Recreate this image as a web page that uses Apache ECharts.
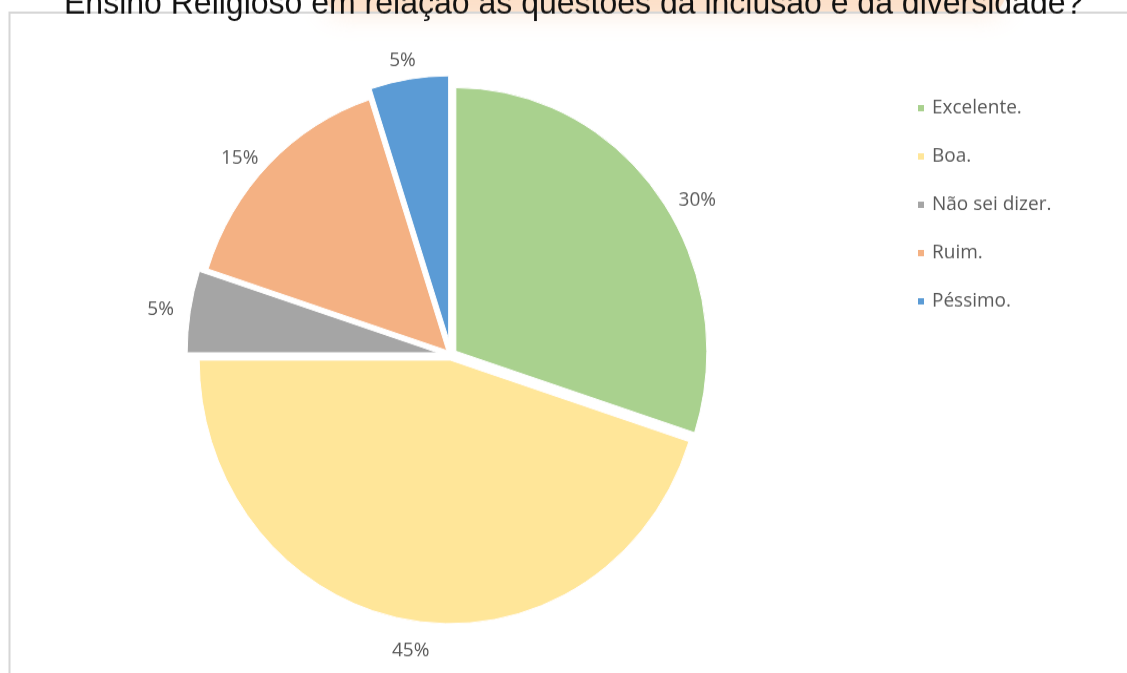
<!DOCTYPE html>
<html>
<head>
<meta charset="utf-8">
<title>Ensino Religioso – inclusão e diversidade</title>
<script src="https://cdn.jsdelivr.net/npm/echarts@6/dist/echarts.min.js"></script>
<style>
  html, body { margin: 0; padding: 0; background: #ffffff; width: 1127px; height: 673px; overflow: hidden; }
  /* the drawing is slightly taller than wide, so the canvas is stretched vertically */
  #chart { width: 1127px; height: 641px; transform: scaleY(1.05); transform-origin: 0 0; }
</style>
</head>
<body>
<div id="chart"></div>
<script>
// Survey answers (percent of respondents)
const categories = ['Excelente.', 'Boa.', 'Não sei dizer.', 'Ruim.', 'Péssimo.'];
const values = [30, 45, 5, 15, 5];
const colors = ['#a9d18e', '#ffe699', '#a5a5a5', '#f4b183', '#5b9bd5'];
const titleText = 'Ensino Religioso em relação às questões da inclusão e da diversidade?';

// how far each slice is pulled out of the pie, px
const explode = [6, 5, 13, 6, 15];
// label placement per slice: [radial reach, horizontal reach], px
const labelReach = [[-6, 19.5], [29.5, -28], [10.5, 1], [8.3, 0], [18.3, -14.3]];

const chart = echarts.init(document.getElementById('chart'), null, { renderer: 'canvas' });

// one pie layer per slice, so every slice can be pulled out by its own amount;
// all layers share the same layout, only the slice they own is visible
const pieLayers = categories.map((_, s) => ({
  type: 'pie',
  name: categories[s],
  center: [451, 338],
  radius: 251,
  startAngle: 90,
  clockwise: true,
  selectedMode: 'multiple',
  selectedOffset: explode[s],
  silent: true,
  avoidLabelOverlap: false,
  itemStyle: { borderColor: '#ffffff', borderWidth: 1 },
  label: {
    show: true,
    position: 'outside',
    formatter: '{c}%',
    fontFamily: 'Open Sans',
    fontSize: 19,
    color: '#595959'
  },
  labelLine: { show: false, length: 10, length2: 0 },
  emphasis: { disabled: true },
  data: categories.map((name, i) => ({
    name: name,
    value: values[i],
    selected: i === s,
    itemStyle: { color: colors[i], opacity: i === s ? 1 : 0 },
    label: { show: i === s },
    labelLine: { show: false, length: labelReach[i][0], length2: labelReach[i][1] }
  }))
}));

chart.setOption({
  backgroundColor: '#ffffff',
  animation: false,
  title: {
    text: titleText,
    left: 64,
    top: -12,
    padding: 0,
    textStyle: {
      fontFamily: 'Liberation Sans',
      fontSize: 32,
      fontWeight: 'normal',
      color: '#111111'
    }
  },
  graphic: [
    {
      // soft highlight behind the second half of the heading
      type: 'rect',
      z: -1,
      shape: { x: 325, y: -22, width: 680, height: 34, r: 17 },
      style: {
        fill: 'rgba(252, 214, 182, 0.55)',
        shadowBlur: 24,
        shadowColor: 'rgba(250, 205, 170, 0.8)'
      },
      silent: true
    },
    {
      // chart area frame
      type: 'rect',
      z: 0,
      shape: { x: 9.5, y: 12, width: 1200, height: 700 },
      style: { fill: 'none', stroke: '#d6d6d6', lineWidth: 2 },
      silent: true
    }
  ],
  legend: {
    orient: 'vertical',
    left: 911,
    top: 88,
    itemWidth: 8,
    itemHeight: 8,
    itemGap: 26,
    icon: 'rect',
    selectedMode: false,
    textStyle: {
      fontFamily: 'Open Sans',
      fontSize: 19,
      lineHeight: 20,
      color: '#595959',
      padding: [0, 0, 0, 2]
    },
    data: categories.map((name, i) => ({
      name: name,
      itemStyle: { color: colors[i], opacity: 1 }
    }))
  },
  series: pieLayers
});
</script>
</body>
</html>
